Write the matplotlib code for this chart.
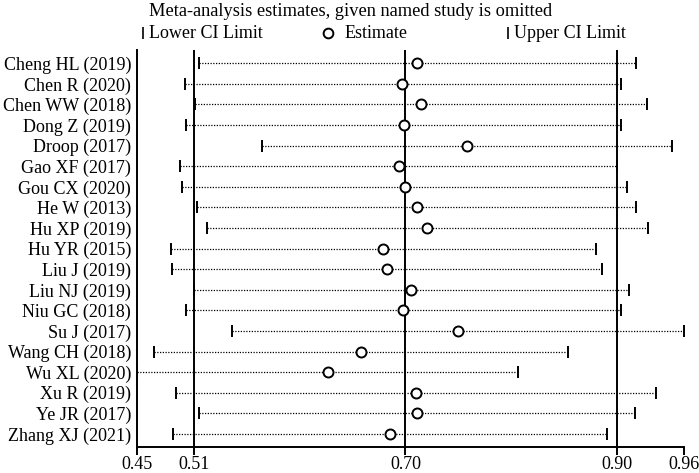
"""Influence plot: meta-analysis estimates with each named study omitted."""
import matplotlib
matplotlib.use("Agg")
import matplotlib.pyplot as plt
from matplotlib.lines import Line2D

plt.rcParams["font.family"] = ["Liberation Serif", "DejaVu Serif"]

studies = ["Cheng HL (2019)", "Chen R (2020)", "Chen WW (2018)", "Dong Z (2019)",
           "Droop (2017)", "Gao XF (2017)", "Gou CX (2020)", "He W (2013)",
           "Hu XP (2019)", "Hu YR (2015)", "Liu J (2019)", "Liu NJ (2019)",
           "Niu GC (2018)", "Su J (2017)", "Wang CH (2018)", "Wu XL (2020)",
           "Xu R (2019)", "Ye JR (2017)", "Zhang XJ (2021)"]
lower = [0.5104, 0.4974, 0.5072, 0.4989, 0.5692, 0.4930, 0.4949, 0.5091,
         0.5180, 0.4850, 0.4854, 0.5057, 0.4983, 0.5412, 0.4692, 0.4535,
         0.4891, 0.5106, 0.4866]
estimate = [0.7128, 0.6989, 0.7162, 0.7004, 0.7588, 0.6958, 0.7014, 0.7125,
            0.7220, 0.6813, 0.6847, 0.7066, 0.6995, 0.7502, 0.6606, 0.6301,
            0.7113, 0.7128, 0.6875]
upper = [0.9155, 0.9014, 0.9254, 0.9016, 0.9489, 0.8979, 0.9072, 0.9155,
         0.9261, 0.8782, 0.8835, 0.9085, 0.9011, 0.9597, 0.8526, 0.8060,
         0.9335, 0.9146, 0.8881]

# overall pooled estimate and its CI (reference lines)
overall = [0.5060, 0.7018, 0.8979]
tick_values = [0.4535, 0.5060, 0.7018, 0.8979, 0.9597]
tick_labels = ["0.45", "0.51", "0.70", "0.90", "0.96"]

fig = plt.figure(figsize=(6.99, 4.73), dpi=100)
ax = fig.add_axes([137.3 / 699, 25.7 / 473, (684 - 137.3) / 699, 397.3 / 473])

rows = list(range(1, len(studies) + 1))

for v in overall:
    ax.axvline(v, color="black", linewidth=1.4, zorder=1)

for y, lo, hi in zip(rows, lower, upper):
    ax.plot([lo, hi], [y, y], color="black", linestyle=(0, (1, 1.2)),
            linewidth=0.9, zorder=2)

ax.plot(lower, rows, linestyle="none", marker="|", markersize=8.5,
        markeredgewidth=1.4, color="black", zorder=3)
ax.plot(upper, rows, linestyle="none", marker="|", markersize=8.5,
        markeredgewidth=1.4, color="black", zorder=3)
ax.plot(estimate, rows, linestyle="none", marker="o", markersize=7.2,
        markeredgewidth=1.4, markerfacecolor="white", markeredgecolor="black",
        zorder=4)

ax.set_xlim(tick_values[0], tick_values[-1])
ax.set_ylim(len(studies) + 0.646, 1 - 0.646)
ax.set_xticks(tick_values, tick_labels)
ax.set_yticks(rows, studies)

ax.spines["top"].set_visible(False)
ax.spines["right"].set_visible(False)
ax.spines["left"].set_linewidth(1.4)
ax.spines["bottom"].set_linewidth(1.4)
ax.tick_params(axis="y", length=0, pad=4.5, labelsize=13)
ax.tick_params(axis="x", length=5.5, width=1.4, pad=1, labelsize=13)

# title and legend row above the plot
fig.text(351 / 699, 1 - 11 / 473, "Meta-analysis estimates, given named study is omitted",
         ha="center", va="center", fontsize=13.2)
legend_y = 1 - 33 / 473
fig.add_artist(Line2D([143 / 699], [legend_y], marker="|", markersize=8,
                      markeredgewidth=1.2, color="black", linestyle="none"))
fig.text(149 / 699, legend_y, "Lower CI Limit", ha="left", va="center", fontsize=13)
fig.add_artist(Line2D([328 / 699], [legend_y], marker="o", markersize=7,
                      markeredgewidth=1.4, markerfacecolor="white",
                      markeredgecolor="black", linestyle="none"))
fig.text(345 / 699, legend_y, "Estimate", ha="left", va="center", fontsize=13)
fig.add_artist(Line2D([508 / 699], [legend_y], marker="|", markersize=8,
                      markeredgewidth=1.2, color="black", linestyle="none"))
fig.text(514 / 699, legend_y, "Upper CI Limit", ha="left", va="center", fontsize=13)

fig.savefig("out.png", dpi=100)
